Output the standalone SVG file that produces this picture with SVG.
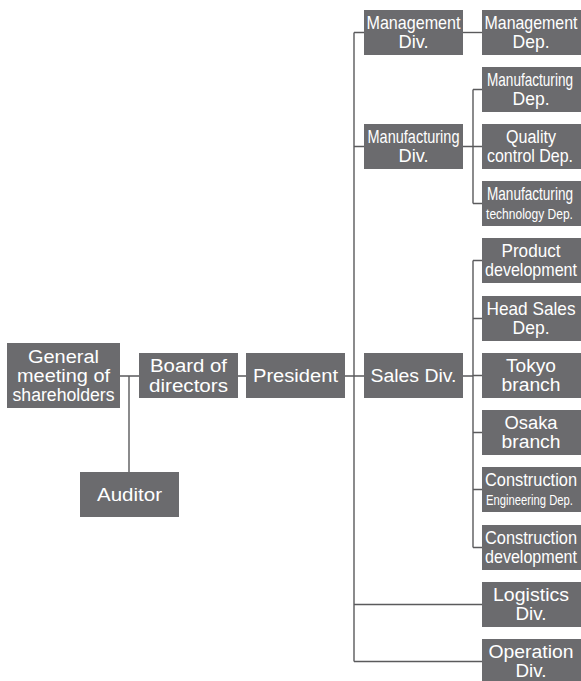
<svg xmlns="http://www.w3.org/2000/svg" width="581" height="681" viewBox="0 0 581 681">
<style>
.box{fill:#6b6b6e}
text{font-family:"Liberation Sans",Arial,sans-serif;font-size:18px;fill:#ffffff;text-anchor:middle}
.s{font-size:15.5px}
.ln{fill:none;stroke:#5a5a5c;stroke-width:1.4}
</style>
<rect width="581" height="681" fill="#ffffff"/>
<g id="connectors">
<path class="ln" d="M120 376H139M129 376V472M238 376H246M345 376H354"/>
<path class="ln" d="M354 32.5V661.5M354 32.5H364M354 146.5H364M354 376H364M354 604.5H482M354 661.5H482"/>
<path class="ln" d="M463 32.5H482"/>
<path class="ln" d="M463 146.5H473M473 89.5V203.5M473 89.5H482M473 146.5H482M473 203.5H482"/>
<path class="ln" d="M463 376H473M473 260.5V547.5M473 260.5H482M473 318.5H482M473 375.5H482M473 432.5H482M473 489.5H482M473 547.5H482"/>
</g>
<g id="general-meeting"><rect class="box" x="7" y="343" width="113" height="65"/>
<text x="63.5" y="363" textLength="71" lengthAdjust="spacingAndGlyphs">General</text>
<text x="63.5" y="382" textLength="93" lengthAdjust="spacingAndGlyphs">meeting of</text>
<text x="63.5" y="400.5" textLength="102" lengthAdjust="spacingAndGlyphs">shareholders</text></g>
<g id="auditor"><rect class="box" x="80" y="472" width="99" height="45"/>
<text x="129.5" y="501" textLength="65" lengthAdjust="spacingAndGlyphs">Auditor</text></g>
<g id="board"><rect class="box" x="139" y="353" width="99" height="45"/>
<text x="188.5" y="372" textLength="77" lengthAdjust="spacingAndGlyphs">Board of</text>
<text x="188.5" y="391.5" textLength="79" lengthAdjust="spacingAndGlyphs">directors</text></g>
<g id="president"><rect class="box" x="246" y="353" width="99" height="45"/>
<text x="295.5" y="382" textLength="85" lengthAdjust="spacingAndGlyphs">President</text></g>
<g id="management-div"><rect class="box" x="364" y="10" width="99" height="45"/>
<text transform="translate(413.5 28.5) scale(0.895 1)">Management</text>
<text x="413.5" y="47.5" textLength="30" lengthAdjust="spacingAndGlyphs">Div.</text></g>
<g id="manufacturing-div"><rect class="box" x="364" y="124" width="99" height="45"/>
<text transform="translate(413.5 142.5) scale(0.807 1)">Manufacturing</text>
<text x="413.5" y="161.5" textLength="30" lengthAdjust="spacingAndGlyphs">Div.</text></g>
<g id="sales-div"><rect class="box" x="364" y="353" width="99" height="45"/>
<text x="413.5" y="382" textLength="86" lengthAdjust="spacingAndGlyphs">Sales Div.</text></g>
<g id="management-dep"><rect class="box" x="482" y="10" width="99" height="45"/>
<text transform="translate(531 28.5) scale(0.885 1)">Management</text>
<text x="531" y="47.5" textLength="37" lengthAdjust="spacingAndGlyphs">Dep.</text></g>
<g id="manufacturing-dep"><rect class="box" x="482" y="67" width="99" height="45"/>
<text transform="translate(530 85.5) scale(0.754 1)">Manufacturing</text>
<text x="531" y="104.5" textLength="37" lengthAdjust="spacingAndGlyphs">Dep.</text></g>
<g id="quality-control"><rect class="box" x="482" y="124" width="99" height="45"/>
<text x="531" y="142.5" textLength="50" lengthAdjust="spacingAndGlyphs">Quality</text>
<text transform="translate(530 161.5) scale(0.887 1)">control Dep.</text></g>
<g id="manufacturing-tech"><rect class="box" x="482" y="181" width="99" height="45"/>
<text transform="translate(530 199.5) scale(0.754 1)">Manufacturing</text>
<text class="s" transform="translate(529.5 218.5) scale(0.777 1)">technology Dep.</text></g>
<g id="product-development"><rect class="box" x="482" y="238" width="99" height="45"/>
<text x="531" y="256.5" textLength="59" lengthAdjust="spacingAndGlyphs">Product</text>
<text transform="translate(531 275.5) scale(0.893 1)">development</text></g>
<g id="head-sales"><rect class="box" x="482" y="296" width="99" height="45"/>
<text transform="translate(531 314.5) scale(0.957 1)">Head Sales</text>
<text x="531" y="333.5" textLength="37" lengthAdjust="spacingAndGlyphs">Dep.</text></g>
<g id="tokyo-branch"><rect class="box" x="482" y="353" width="99" height="45"/>
<text x="531" y="371.5" textLength="50" lengthAdjust="spacingAndGlyphs">Tokyo</text>
<text x="531" y="390.5" textLength="59" lengthAdjust="spacingAndGlyphs">branch</text></g>
<g id="osaka-branch"><rect class="box" x="482" y="410" width="99" height="45"/>
<text x="531" y="428.5" textLength="53" lengthAdjust="spacingAndGlyphs">Osaka</text>
<text x="531" y="447.5" textLength="59" lengthAdjust="spacingAndGlyphs">branch</text></g>
<g id="construction-engineering"><rect class="box" x="482" y="467" width="99" height="45"/>
<text transform="translate(531 485.5) scale(0.911 1)">Construction</text>
<text class="s" transform="translate(529.5 504.5) scale(0.726 1)">Engineering Dep.</text></g>
<g id="construction-development"><rect class="box" x="482" y="525" width="99" height="45"/>
<text transform="translate(531 543.5) scale(0.911 1)">Construction</text>
<text transform="translate(531 562.5) scale(0.893 1)">development</text></g>
<g id="logistics-div"><rect class="box" x="482" y="582" width="99" height="45"/>
<text x="531" y="600.5" textLength="76" lengthAdjust="spacingAndGlyphs">Logistics</text>
<text x="531" y="619.5" textLength="31" lengthAdjust="spacingAndGlyphs">Div.</text></g>
<g id="operation-div"><rect class="box" x="482" y="639" width="99" height="45"/>
<text x="531" y="657.5" textLength="85" lengthAdjust="spacingAndGlyphs">Operation</text>
<text x="531" y="676.5" textLength="31" lengthAdjust="spacingAndGlyphs">Div.</text></g>
</svg>
